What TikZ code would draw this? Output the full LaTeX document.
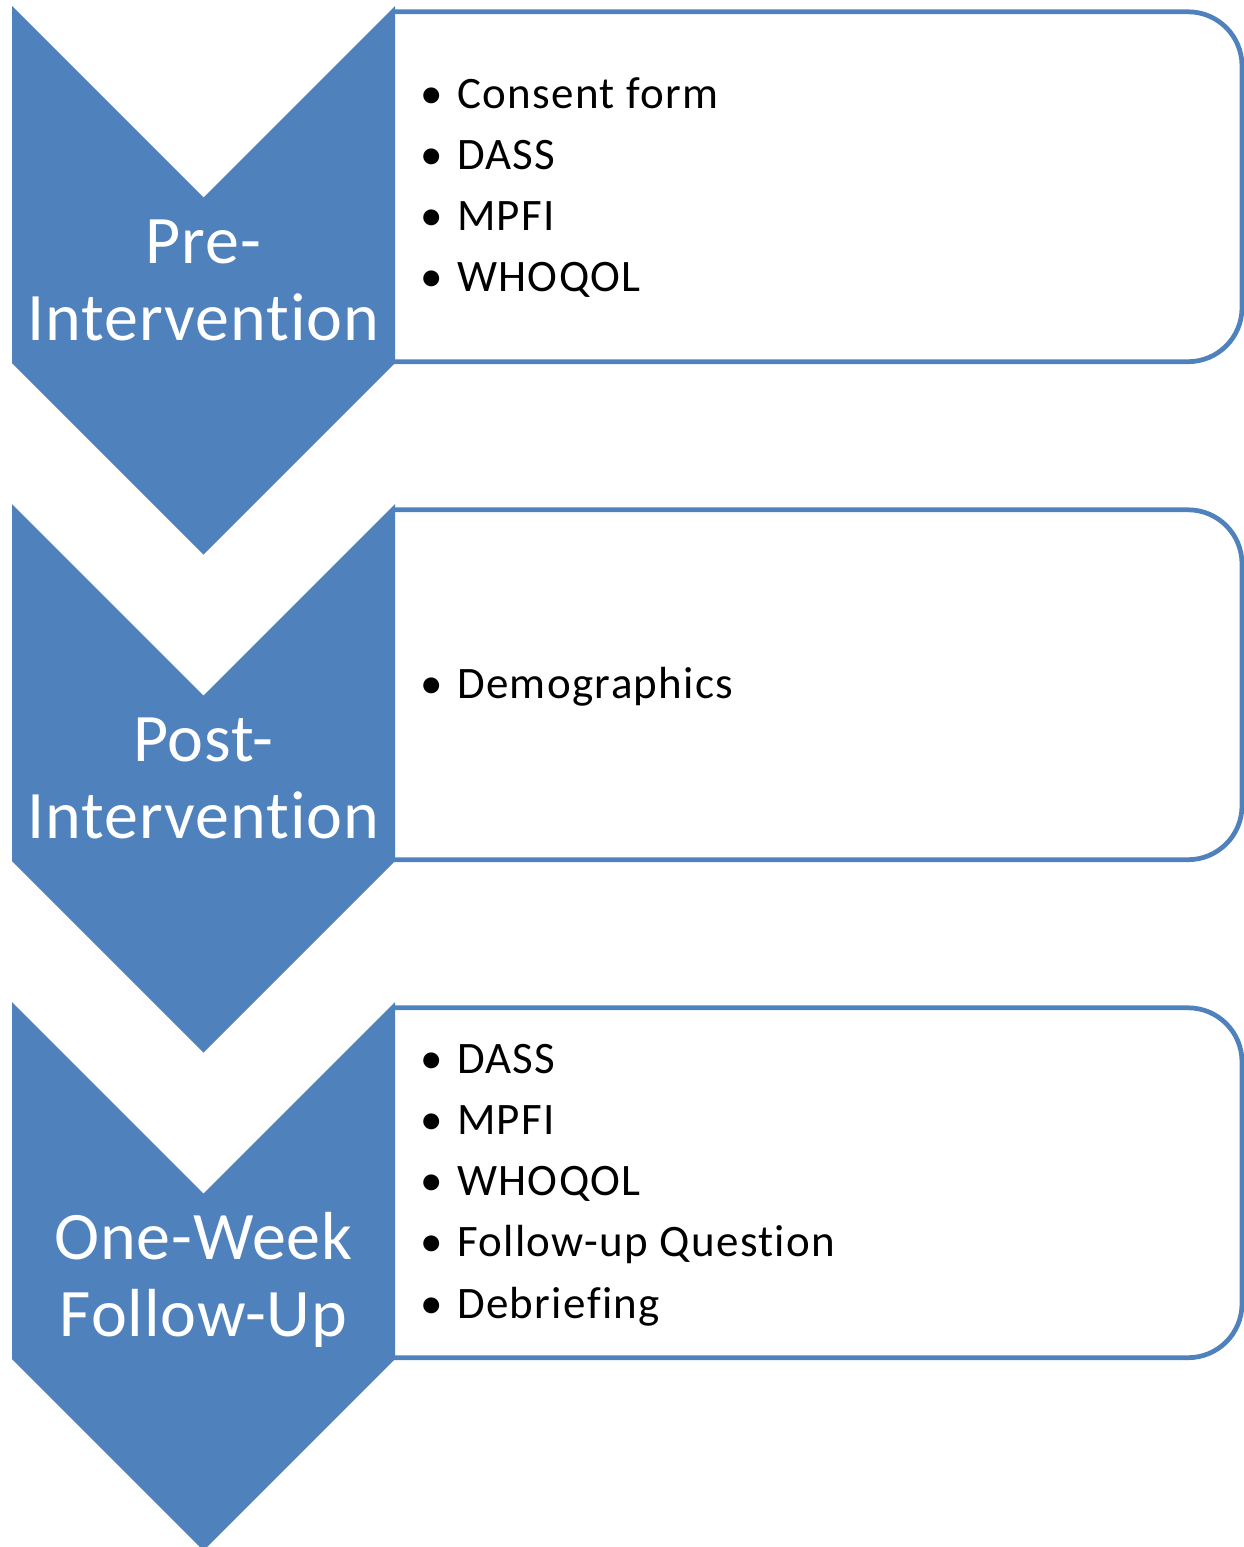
\documentclass[tikz,border=0pt]{standalone}
\usepackage{fontspec}
\setmainfont[Ligatures=NoCommon]{Carlito}
\newfontfamily\stagefont[Ligatures=NoCommon,LetterSpace=1.3]{Carlito}
\newfontfamily\itemfont[Ligatures=NoCommon,LetterSpace=3]{Carlito}
\definecolor{accent}{HTML}{4F81BD}
\begin{document}
\begin{tikzpicture}[x=1pt,y=-1pt,
  chevron/.style={fill=accent,draw=none},
  panel/.style={draw=accent,line width=4.75pt,rounded corners=54pt},
  stage/.style={text=white,font=\stagefont\fontsize{68}{77}\selectfont,inner sep=0pt,anchor=base},
  item/.style={text=black,font=\itemfont\fontsize{45}{54}\selectfont,inner sep=0pt,anchor=base west},
  bulletmark/.style={text=black,font=\fontsize{45}{54}\selectfont,inner sep=0pt,anchor=base}]
\useasboundingbox (0,0) rectangle (1244,1547);

% three stages: outlined panel first, chevron drawn over its left end
\foreach \dy in {0,498,996}{
  \draw[panel] (392,{11.8+\dy}) -- (1242,{11.8+\dy}) -- (1242,{361.7+\dy}) -- (392,{361.7+\dy});
  \fill[chevron] (12,{6+\dy}) -- (203.5,{197.5+\dy}) -- (395,{6+\dy}) -- (395,{363+\dy})
     -- (203.5,{554.5+\dy}) -- (12,{363+\dy}) -- cycle;
}

% stage titles
\node[stage] (preA) at (203.5,263) {Pre-};
\node[stage] (preB) at (203.5,340) {Intervention};
\node[stage] (postA) at (203.5,761) {Post-};
\node[stage] (postB) at (203.5,838) {Intervention};
\node[stage] (fupA) at (203.5,1259) {One-Week};
\node[stage] (fupB) at (203.5,1336) {Follow-Up};

% stage 1 measures
\foreach \y/\n/\t in {108.3/a1/Consent form, 169.5/a2/DASS, 230.7/a3/MPFI, 291.9/a4/WHOQOL}{
  \node[bulletmark] (b\n) at (431.7,\y) {•};
  \node[item] (\n) at (457,\y) {\t};
}

% stage 2 measures
\node[bulletmark] (bb1) at (431.7,698.5) {•};
\node[item] (b1) at (457,698.5) {Demographics};

% stage 3 measures
\foreach \y/\n/\t in {1073.3/c1/DASS, 1134.5/c2/MPFI, 1195.7/c3/WHOQOL, 1256.9/c4/Follow-up Question, 1318.1/c5/Debriefing}{
  \node[bulletmark] (b\n) at (431.7,\y) {•};
  \node[item] (\n) at (457,\y) {\t};
}
\end{tikzpicture}
\end{document}
